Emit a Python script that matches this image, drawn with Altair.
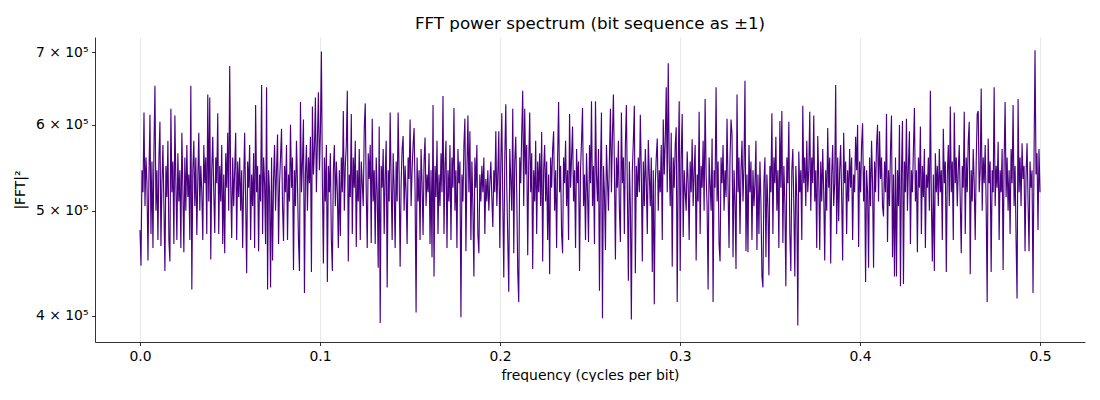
import altair as alt
import numpy as np
import pandas as pd

# |FFT|^2 values in thousands, evenly spaced over 0..0.5 cycles/bit
seg0 = [480,445,545,520,616,505,560,530,450,540,613,476,555,462,570,652,500,545,470,560,
        604,464,530,575,505,440,550,515,580,470,449,621,520,555,466,612,530,470,565,510,
        545,462,590,525,458,560,500,575,515,540,470,652,423,545,580,505,560,475,535,590,
        500,550,520,470,575,530,560,476,640,510,636,451,545,585,520,477,560,530,615,476,
        550,510,575,466,540,457,565,525,590,500,680,530,472,560,505,545,590,470,555,515]
seg1 = [560,500,545,462,530,590,510,438,555,525,575,470,540,505,565,462,626,520,550,459,
        540,510,653,476,560,530,466,650,423,545,520,425,560,450,535,575,500,545,588,466,
        530,560,595,505,469,550,520,575,470,540,510,600,525,560,441,545,505,580,530,470,
        440,630,520,555,607,420,540,575,500,560,530,585,439,624,540,570,636,520,580,643,
        545,590,701,530,447,560,510,575,430,550,520,565,470,440,545,575,505,555,520,462]
seg2 = [545,474,560,520,618,500,550,575,645,449,540,515,614,476,560,525,580,463,545,510,
        570,470,555,530,505,596,628,520,462,565,535,575,467,608,510,545,466,560,520,443,
        598,394,550,525,570,476,540,580,425,545,510,616,530,470,565,525,462,555,510,616,
        540,444,530,570,586,500,550,520,466,560,535,607,505,545,575,596,520,403,560,510,
        545,470,570,530,475,555,584,505,540,520,565,466,545,453,626,435,550,515,580,476]
seg3 = [540,505,565,520,638,476,550,580,462,545,510,575,470,560,525,622,500,545,462,570,
        530,555,399,540,510,575,608,459,545,612,520,592,470,555,505,435,560,525,575,476,
        457,540,510,550,520,560,476,535,510,545,500,530,555,515,483,545,520,592,505,540,
        592,462,550,615,510,434,560,627,525,470,421,570,535,500,621,457,555,585,520,439,
        412,560,530,590,645,505,621,540,575,455,550,616,520,565,442,545,510,580,476,555]
seg4 = [520,565,505,591,449,545,575,510,555,470,540,437,560,525,570,592,500,545,462,560,
        630,520,550,476,457,560,530,580,505,545,470,614,525,560,598,510,545,462,570,530,
        555,440,545,580,622,505,540,470,565,520,468,575,530,631,505,550,466,631,540,510,
        570,422,545,616,398,550,520,460,575,535,500,560,621,520,585,640,545,451,560,525,
        580,500,468,616,530,560,476,575,626,520,431,555,505,397,545,580,625,438,550,515]
seg5 = [560,520,613,540,449,555,505,570,530,476,581,540,505,560,439,545,410,530,560,583,
        500,545,520,575,470,607,540,580,650,520,684,555,505,590,444,560,525,575,597,412,
        550,631,440,560,614,473,545,520,500,567,530,470,555,520,582,505,545,575,450,540,
        510,617,476,550,525,580,500,634,540,505,423,560,530,500,583,412,545,525,650,510,
        555,466,449,560,530,575,500,545,515,608,525,462,560,607,588,453,545,510,442,640]
seg6 = [520,560,476,545,580,510,550,659,459,540,458,575,520,555,470,545,505,530,580,460,
        540,476,555,510,435,425,530,560,453,540,505,436,550,520,615,476,560,530,585,500,
        545,462,605,525,618,467,550,510,426,560,530,604,476,440,545,570,505,435,550,515,
        392,567,520,545,470,625,530,560,505,580,520,545,617,500,560,530,612,510,545,462,
        586,535,460,555,510,570,520,450,545,500,596,525,560,447,540,575,505,530,653,476]
seg7 = [560,489,545,575,515,450,590,530,555,476,545,510,570,525,560,470,540,520,585,545,
        600,463,555,520,575,602,510,550,430,545,520,443,560,505,580,530,443,555,520,575,
        600,510,592,535,560,505,494,555,520,614,468,545,505,570,612,453,540,435,560,435,
        545,505,600,426,540,605,428,555,520,608,500,550,592,466,545,520,570,622,510,545,
        458,560,525,598,476,550,515,570,462,540,525,560,500,645,510,449,540,440,565,520]
seg8 = [550,505,570,520,545,470,595,530,555,439,540,575,505,624,520,555,470,616,530,560,
        505,545,575,510,457,550,525,617,476,560,520,580,604,437,545,510,570,530,470,555,
        614,618,520,545,648,500,560,530,575,505,412,583,530,555,439,545,520,650,505,550,
        525,579,470,545,520,570,441,555,630,515,560,500,545,476,570,530,626,505,550,470,
        415,634,520,560,505,577,535,550,459,540,577,510,459,555,525,545,420,560,703,540]
seg9 = [565,480,570,520]

x_ticks = [0.0, 0.1, 0.2, 0.3, 0.4, 0.5]
y_ticks = [400000, 500000, 600000, 700000]

power_k = seg0 + seg1 + seg2 + seg3 + seg4 + seg5 + seg6 + seg7 + seg8 + seg9
freq = np.linspace(0.0, 0.5, len(power_k))
df = pd.DataFrame({"freq": freq, "power": np.array(power_k, dtype=float) * 1000.0})

FONT = "DejaVu Sans"

line = alt.Chart(df).mark_line(color="#4b0082", strokeWidth=1.15).encode(
    x=alt.X(
        "freq:Q",
        scale=alt.Scale(domain=[-0.025, 0.525], nice=False, zero=False),
        axis=alt.Axis(
            title="frequency (cycles per bit)",
            values=x_ticks,
            format=".1f",
            grid=True,
            gridColor="#e3e3e3",
            gridWidth=0.8,
            titlePadding=6,
        ),
    ),
    y=alt.Y(
        "power:Q",
        scale=alt.Scale(type="log", domain=[378500, 723000], nice=False, zero=False),
        axis=alt.Axis(
            title="|FFT|²",
            values=y_ticks,
            labelExpr="format(datum.value / 100000, 'd') + ' × 10⁵'",
            grid=False,
            titlePadding=8,
        ),
    ),
)

chart = (
    line.properties(
        width=990,
        height=305,
        title=alt.TitleParams(
            "FFT power spectrum (bit sequence as ±1)",
            font=FONT,
            fontSize=16.7,
            fontWeight="normal",
            color="black",
            anchor="middle",
            offset=4,
        ),
        padding={"left": 87, "top": 29, "right": 7, "bottom": 40},
        autosize=alt.AutoSizeParams(type="none"),
    )
    .configure_view(stroke=None)
    .configure_axis(
        domainColor="black",
        tickColor="black",
        labelColor="black",
        titleColor="black",
        labelFont=FONT,
        titleFont=FONT,
        labelFontSize=13.9,
        titleFontSize=13.9,
        titleFontWeight="normal",
        tickSize=3.5,
        tickWidth=0.8,
        domainWidth=0.8,
        labelPadding=3.5,
    )
)

chart.save("out.html", embed_options={"renderer": "svg", "actions": False})
